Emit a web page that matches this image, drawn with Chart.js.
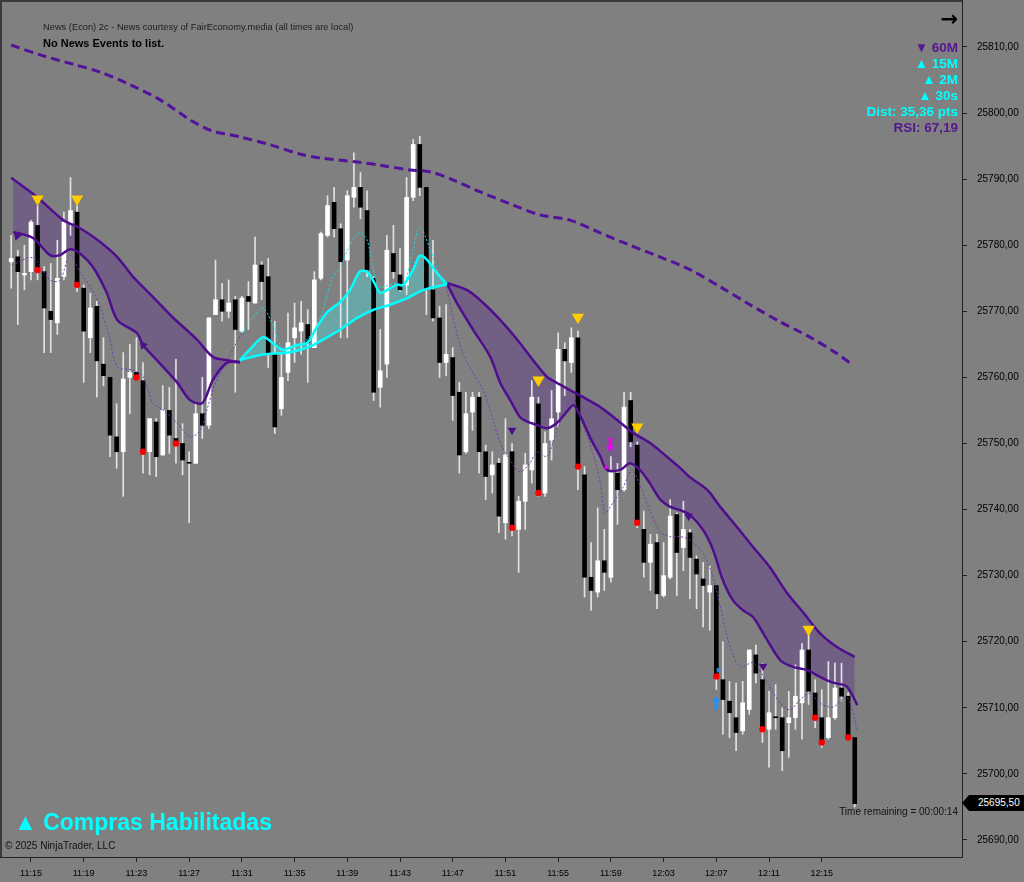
<!DOCTYPE html>
<html>
<head>
<meta charset="utf-8">
<script src="https://cdn.jsdelivr.net/npm/chart.js@4.4.1/dist/chart.umd.min.js"></script>
<style>
  html, body { margin: 0; padding: 0; background: #808080; }
  #wrap { position: relative; width: 1024px; height: 882px; overflow: hidden; font-family: "Liberation Sans", Arial, sans-serif; }
  #chart { position: absolute; left: 0; top: 0; }
  .t { position: absolute; white-space: nowrap; line-height: 1; }
  #news { left: 43px; top: 22.5px; font-size: 9.3px; color: #1c1c1c; }
  #nonews { left: 43px; top: 38px; font-size: 11px; font-weight: bold; color: #000; }
  #arrow { right: 66px; top: 9px; font-size: 21px; font-weight: bold; color: #000; font-family: "DejaVu Sans", sans-serif; }
  #info { position: absolute; right: 66px; top: 40px; text-align: right; font-size: 13.5px; line-height: 16px; font-weight: bold; }
  .pu { color: #55168f; }
  .cy { color: #00ffff; }
  #compras { left: 14px; top: 811px; font-size: 23px; font-weight: bold; color: #00ffff; }
  #copy { left: 5px; top: 841px; font-size: 10px; color: #111; }
  #remain { right: 66px; top: 807px; font-size: 10px; color: #111; }
  #badge { position: absolute; left: 962px; top: 795px; width: 62px; height: 16px; background: #000; color: #fff;
           font-size: 10px; line-height: 16px; padding-left: 16px; box-sizing: border-box;
           clip-path: polygon(0 50%, 7px 0, 100% 0, 100% 100%, 7px 100%); }
</style>
</head>
<body>
<div id="wrap">
  <canvas id="chart" width="1024" height="882"></canvas>
  <div class="t" id="news">News (Econ) 2c - News courtesy of FairEconomy.media (all times are local)</div>
  <div class="t" id="nonews">No News Events to list.</div>
  <div class="t" id="arrow">→</div>
  <div id="info">
    <div class="pu">▼ 60M</div>
    <div class="cy">▲ 15M</div>
    <div class="cy">▲ 2M</div>
    <div class="cy">▲ 30s</div>
    <div class="cy">Dist: 35,36 pts</div>
    <div class="pu">RSI: 67,19</div>
  </div>
  <div class="t" id="compras">▲ Compras Habilitadas</div>
  <div class="t" id="copy">© 2025 NinjaTrader, LLC</div>
  <div class="t" id="remain">Time remaining = 00:00:14</div>
  <div id="badge">25695,50</div>
</div>
<script>
// 30 second bars, index 0 = 11:13:30
const opens = [
  25777.5, 25778.25, 25775.5, 25776, 25783, 25776, 25770, 25768.25, 25775.25, 25783.25,
  25785, 25773.5, 25766, 25770.75, 25762, 25760, 25751, 25748.75, 25760, 25760.75,
  25759.5, 25748.75, 25753.25, 25748.25, 25755, 25750.75, 25750, 25747, 25747, 25754.5,
  25752.75, 25769.5, 25771.75, 25770, 25771.75, 25767, 25772.25, 25771.25, 25777, 25775.25,
  25763.5, 25755.25, 25760.75, 25766, 25767, 25768, 25764.5, 25775, 25781.5, 25786.5,
  25782.5, 25777.75, 25787.25, 25788.75, 25785.25, 25775, 25758.5, 25762, 25778.75, 25775.5,
  25774, 25787.25, 25795.25, 25788.75, 25773.25, 25769, 25762.25, 25763, 25757.75, 25748.75,
  25754.75, 25757, 25748.75, 25745.25, 25747, 25738, 25748.75, 25737, 25741.25, 25746,
  25756, 25742.5, 25750.5, 25754.75, 25764.25, 25762.25, 25766, 25745.25, 25729.75, 25727.5,
  25732.25, 25729.75, 25745.5, 25743, 25756.5, 25749.75, 25737, 25732, 25735, 25727,
  25729.75, 25739.25, 25734.25, 25736.5, 25732.5, 25729.5, 25727.5, 25728.5, 25714.25, 25711,
  25708.5, 25706.5, 25709.75, 25718, 25714.25, 25706.75, 25708.5, 25708.5, 25707.75, 25708.5,
  25710.75, 25718.75, 25712.25, 25708.5, 25705.5, 25708.5, 25713, 25711.75, 25705.5
];
const highs = [
  25781.5, 25779.25, 25780, 25783.75, 25786, 25776.75, 25777.25, 25780.75, 25785, 25790.25,
  25786, 25774, 25772.75, 25771.5, 25766, 25760, 25756, 25763.75, 25765, 25766,
  25762.25, 25753.75, 25753.75, 25758.75, 25758.5, 25762.75, 25753, 25748.75, 25756.25, 25760,
  25769, 25777.75, 25774.25, 25774.75, 25772.25, 25772.25, 25774.5, 25781.25, 25777.5, 25778,
  25768.5, 25763.5, 25769.75, 25771.25, 25771.5, 25770.25, 25776, 25782, 25787.5, 25788.75,
  25783.25, 25788.25, 25794, 25791, 25788.25, 25775.25, 25767.25, 25781.5, 25783, 25779.5,
  25790.25, 25796, 25796.5, 25788.75, 25780.75, 25770.75, 25771, 25764.5, 25759.25, 25757.75,
  25757.75, 25757.75, 25749.75, 25748.75, 25747.75, 25753.75, 25750, 25742, 25748.5, 25759.5,
  25757, 25751.75, 25758, 25766.75, 25765.25, 25767.5, 25767, 25746.5, 25735, 25740.25,
  25737, 25748, 25747, 25757.75, 25757.75, 25750.25, 25739.75, 25736.25, 25736.25, 25735,
  25741.5, 25739.5, 25741.25, 25737, 25733, 25732, 25731.5, 25728.5, 25720, 25714,
  25713.75, 25714, 25718.75, 25719.5, 25716.75, 25712.5, 25713.5, 25710, 25712.5, 25716.5,
  25719.75, 25721.25, 25714.25, 25712.75, 25717, 25716.75, 25716.75, 25712.25, 25705.5
];
const lows = [
  25773.5, 25768, 25773.25, 25774.75, 25774.75, 25763.75, 25763.75, 25766.5, 25774.75, 25781.5,
  25773, 25759.25, 25763.75, 25757, 25758.75, 25748, 25746.25, 25742, 25754.5, 25759.75,
  25745.5, 25745.25, 25745, 25748.25, 25748.5, 25747, 25745.25, 25738, 25747, 25750.75,
  25752.25, 25769.5, 25768.5, 25769, 25757.75, 25766.75, 25767.25, 25771.25, 25771.75, 25761.5,
  25751.5, 25754.25, 25759.5, 25762.25, 25763.5, 25759.25, 25764.5, 25774.75, 25781.25, 25781.25,
  25766, 25766, 25785.75, 25784, 25775.25, 25756.5, 25755.5, 25760, 25775, 25773,
  25772.5, 25786.75, 25787.5, 25769.5, 25768.5, 25760, 25760.25, 25753.5, 25745.5, 25748.5,
  25752, 25745.5, 25741.5, 25742.5, 25736.5, 25735.5, 25736, 25730.5, 25737, 25744,
  25742, 25742, 25747.5, 25752.5, 25757.25, 25760.75, 25743, 25726.75, 25724.75, 25726.75,
  25727.75, 25729, 25737.75, 25742.75, 25749.5, 25737.25, 25729.75, 25727.75, 25725, 25726.75,
  25729.5, 25727, 25730.75, 25726.5, 25725, 25722.25, 25721.75, 25712.75, 25706, 25705.5,
  25703.5, 25706, 25709, 25713.75, 25704.75, 25701, 25706.75, 25700.5, 25702.5, 25706.75,
  25705.25, 25710.5, 25707, 25704, 25705.25, 25708.25, 25711, 25705.25, 25695
];
const closes = [
  25778, 25776, 25775.75, 25783.5, 25776.25, 25770.5, 25768.75, 25775, 25783.5, 25785.25,
  25774, 25767, 25770.5, 25762.5, 25760.25, 25751.25, 25748.75, 25759.75, 25760.75, 25760,
  25748.75, 25753.75, 25748, 25755, 25751.25, 25750, 25747.5, 25747, 25754.5, 25752.75,
  25769, 25771.75, 25770, 25771.25, 25767.25, 25772, 25771.5, 25777, 25774.5, 25763.75,
  25752.5, 25760, 25765.25, 25767.5, 25768.25, 25765.25, 25774.75, 25781.75, 25786, 25782.5,
  25777.5, 25787.5, 25788.75, 25785.75, 25776.25, 25757.75, 25761, 25779.25, 25776, 25773.25,
  25787.25, 25795.25, 25788.75, 25773.25, 25769, 25762.25, 25763.5, 25757.25, 25748.25, 25754.5,
  25757, 25748.75, 25745, 25746.75, 25739, 25748.25, 25737.25, 25741.25, 25746.75, 25757,
  25742.5, 25750, 25753.75, 25764.25, 25762.5, 25766, 25746.5, 25729.75, 25727.75, 25732.25,
  25730.5, 25745.75, 25743, 25755.5, 25750.25, 25738, 25732, 25734.75, 25727.25, 25730,
  25739, 25733.5, 25737, 25732.75, 25730.25, 25728.5, 25728.5, 25714.75, 25711.25, 25709.25,
  25706.25, 25710.75, 25718.75, 25715.25, 25706.75, 25709.25, 25708.5, 25703.5, 25708.5, 25711.75,
  25718.75, 25712.5, 25708.5, 25704.75, 25708.5, 25713, 25711.75, 25705.5, 25695.5
];

const tickIdx = [3, 11, 19, 27, 35, 43, 51, 59, 67, 75, 83, 91, 99, 107, 115, 123];
const tickLabels = ["11:15", "11:19", "11:23", "11:27", "11:31", "11:35", "11:39", "11:43",
  "11:47", "11:51", "11:55", "11:59", "12:03", "12:07", "12:11", "12:15"];
const yTicks = [25690, 25700, 25710, 25720, 25730, 25740, 25750, 25760, 25770, 25780, 25790, 25800, 25810];

// [bar index, price]
const slowMa = [[0, 25810.3], [4.4, 25808.8], [9.7, 25807.3], [13.5, 25806.2], [18, 25804.3], [22.6, 25802],
  [27.1, 25799], [30.2, 25797.4], [34.7, 25796.4], [39.3, 25795.2], [43.8, 25793.8], [46.9, 25793.2],
  [52.5, 25792.6], [56, 25792.1], [60.5, 25791.4], [63.6, 25791.1], [67, 25789.9], [71.1, 25788.1],
  [76.1, 25786.1], [80.2, 25784.6], [84.8, 25783.8], [89.3, 25781.9], [93.9, 25780], [98.5, 25778.2],
  [103, 25776.3], [107.6, 25773.7], [112.1, 25771], [116.7, 25768.4], [121.2, 25766.1], [125, 25763.8],
  [127.7, 25761.9]];

const bandTop1 = [[0, 25790.2], [3.9, 25787.3], [7.9, 25783.8], [10.4, 25782.6], [13.5, 25780.5],
  [16.1, 25778.2], [18.5, 25775.2], [21.5, 25772.2], [24.5, 25769.1], [28.2, 25765.7], [30.6, 25763.1],
  [32.7, 25762.6], [34.7, 25762.3]];
const bandBot1 = [[0.3, 25782], [3.3, 25781.1], [5.9, 25778.5], [7.4, 25778.5], [8.9, 25779.4],
  [10.4, 25778.8], [12.4, 25776.7], [14.5, 25772.8], [16.1, 25768.7], [19.1, 25766.7], [20, 25764.9],
  [22.1, 25762.6], [25.2, 25759.2], [27.1, 25756.6], [29, 25756.1], [30.6, 25759.6], [32.7, 25762.2],
  [34.7, 25762.3]];

const cyanFast = [[34.7, 25762.6], [36.2, 25764.2], [38.2, 25766.1], [39.7, 25765.2], [41.2, 25764.2],
  [43.4, 25764.9], [44.9, 25765.2], [46.4, 25767.6], [47.9, 25769.8], [49.9, 25771.4], [51.4, 25773.2],
  [52.9, 25776], [54, 25776], [54.9, 25774.7], [56, 25772.8], [57, 25773.2], [58.5, 25774], [59.5, 25774],
  [61, 25776.3], [62, 25778.4], [63.1, 25777.8], [64.6, 25775.8], [66.1, 25774.1]];
const cyanSlow = [[34.7, 25762.6], [37.8, 25763.4], [42.3, 25763.8], [44.9, 25764.5], [47.3, 25765.7],
  [49.9, 25767.2], [52.5, 25769], [54.9, 25770.2], [57.5, 25771], [60.1, 25772], [62.5, 25773.2],
  [66.1, 25774.1]];

const bandTop2 = [[66.1, 25774.3], [69.2, 25773.2], [71.6, 25771.3], [74.2, 25768.7], [76.8, 25765.7],
  [79.2, 25762.6], [81.3, 25760.1], [83.3, 25758.9], [85.3, 25757.8], [86.8, 25757], [89.4, 25755.5],
  [91.9, 25753.6], [94.4, 25751.6], [96.9, 25750.1], [99.5, 25748], [101.5, 25746.3], [103, 25744.9],
  [105.6, 25743], [107.6, 25740.4], [110.1, 25737.4], [112.6, 25734.3], [115.1, 25731.3], [117.7, 25727.4],
  [120.2, 25724.4], [122.7, 25721.3], [125.3, 25719.2], [128, 25717.7]];
const bandBot2 = [[66.1, 25774.3], [67.6, 25771.3], [70.1, 25767.2], [72.7, 25763.1], [74.2, 25759.2],
  [75.7, 25756.6], [77.2, 25754], [78.3, 25753.3], [79.8, 25752.8], [81.3, 25752.3], [82.8, 25753.1],
  [84.3, 25754.8], [85.3, 25755.8], [86.3, 25754.3], [87.8, 25751], [89.4, 25748], [90.4, 25746],
  [92.4, 25746], [93.9, 25747], [95.4, 25746], [96.9, 25744], [98.5, 25741.5], [100, 25740.4],
  [101.5, 25739.9], [103, 25739.2], [105, 25736.9], [106.5, 25733.9], [108, 25729.3], [109.5, 25726.3],
  [111, 25724.8], [112.6, 25723.7], [114.1, 25721.3], [116.7, 25717.2], [118.6, 25716.2], [120.8, 25715.7],
  [122.7, 25714.7], [124.7, 25713.8], [126.8, 25713.2], [128.4, 25710.4]];

// thin dotted average, split where it changes colour
const fastMaA = [[0.1, 25777], [3.3, 25778.1], [5.9, 25774.7], [7.4, 25774.7], [8.9, 25778.5],
  [10.4, 25776], [12, 25773.7], [13.5, 25770.7], [15, 25765.7], [16.1, 25761.6], [18.5, 25761.1],
  [20, 25760.1], [21.5, 25756.1], [23, 25755.1], [25.2, 25753.1], [27.1, 25751], [28.7, 25752],
  [29.7, 25755.1], [30.9, 25758.9], [32.4, 25761.9], [34, 25764.9], [35, 25766.7]];
const fastMaB = [[35, 25766.7], [38.1, 25770.5], [39.7, 25767.9], [41.1, 25764.5], [42.8, 25764.6],
  [44.9, 25765.7], [46.9, 25769], [48.8, 25775.2], [49.9, 25776.6], [51.4, 25780], [52.9, 25781.9],
  [54, 25780.8], [54.9, 25776.6], [56, 25773.7], [58.5, 25774.3], [59.5, 25773.7], [61, 25779.3],
  [62, 25782.8], [63.6, 25779.3], [65.1, 25775.2], [66.1, 25773.7]];
const fastMaC = [[66.1, 25773.7], [67, 25769.1], [68.6, 25763.4], [70.1, 25760.7], [71.6, 25758.1],
  [73.1, 25753.6], [74.2, 25750.1], [75.7, 25747.5], [77.2, 25745.7], [78.7, 25747], [79.8, 25748.7],
  [81.3, 25748], [82.8, 25752], [84.3, 25755.4], [85.1, 25757], [86.3, 25754], [87.8, 25750.1],
  [89.4, 25744], [90.1, 25739.5], [91.3, 25741], [92.8, 25743.3], [94.2, 25746], [95.4, 25743.7],
  [96.9, 25739.9], [98.5, 25736.6], [100, 25735.9], [101.5, 25735.9], [103, 25735.4], [105, 25733.4],
  [106.5, 25729.8], [107.6, 25725.3], [109.1, 25719.2], [110.6, 25716.2], [112.6, 25716.8], [114.7, 25713.8],
  [116.7, 25710.7], [118.2, 25709.7], [119.7, 25711.2], [121.2, 25712.2], [122.7, 25710.7], [124.7, 25710.1],
  [126.8, 25711.6], [128.4, 25706.6]];

const yellowSignals = [[4, 25787], [10, 25787], [80, 25759.6], [86, 25769.1], [95, 25752.5], [121, 25721.9]];
const purpleSignals = [[76, 25752], [102.8, 25739], [114.1, 25716.3]];
const purpleHeads = [[0.9, 25781.4], [20, 25764.9]];
const redDotIdx = [4, 10, 19, 20, 25, 76, 80, 86, 95, 107, 114, 122, 123, 127];
const magentaArrow = [[90.9, 25749.8]];
const magentaMark = [[90.3, 25746.4]];
const blueArrow = [[107, 25710.7]];
const blueMark = [[107.3, 25715.7]];
const cyanTick = [[60.5, 25791.2]];

const PURPLE = "#4e0e8e";
const pts = (a) => a.map((p) => ({ x: p[0], y: p[1] }));

function arrowImg(color, up) {
  const c = document.createElement("canvas");
  c.width = 8; c.height = 14;
  const g = c.getContext("2d");
  g.fillStyle = color;
  g.beginPath();
  if (up) {
    g.moveTo(4, 0); g.lineTo(8, 6); g.lineTo(5.5, 6); g.lineTo(5.5, 14); g.lineTo(2.5, 14); g.lineTo(2.5, 6); g.lineTo(0, 6);
  } else {
    g.moveTo(4, 14); g.lineTo(8, 8); g.lineTo(5.5, 8); g.lineTo(5.5, 2); g.lineTo(2.5, 2); g.lineTo(2.5, 8); g.lineTo(0, 8);
    g.fillRect(1, 0, 6, 1.5);
  }
  g.closePath(); g.fill();
  return c;
}

const wicks = opens.map((o, i) => ({ x: i, y: [lows[i], highs[i]] }));
const whiteBodies = [], blackBodies = [];
opens.forEach((o, i) => { (closes[i] > o ? whiteBodies : blackBodies).push({ x: i, y: [o, closes[i]] }); });

const bar = (data, color, w, order) => ({ type: "bar", data, backgroundColor: color, barThickness: w, grouped: false, minBarLength: 1, order });
const line = (data, color, width, extra) => Object.assign({ type: "line", data: pts(data), borderColor: color, borderWidth: width, pointRadius: 0, tension: 0.3, fill: false, order: 1 }, extra || {});
const marks = (data, style, color, radius, rotation) => ({ type: "scatter", data: pts(data), pointStyle: style, backgroundColor: color, borderColor: color, borderWidth: 0, pointRadius: radius, rotation: rotation || 0, order: 0 });

const frame = {
  id: "frame",
  afterDraw(chart) {
    const { ctx, chartArea: a } = chart;
    ctx.save();
    ctx.strokeStyle = "#3a3a3a";
    ctx.lineWidth = 2;
    ctx.beginPath();
    ctx.moveTo(1, a.bottom); ctx.lineTo(1, 1); ctx.lineTo(a.right, 1);
    ctx.stroke();
    ctx.restore();
  },
};

new Chart(document.getElementById("chart"), {
  type: "bar",
  data: {
    datasets: [
      line(bandTop1, PURPLE, 2.5, { fill: "+1", backgroundColor: "rgba(85,30,140,0.33)" }),
      line(bandBot1, PURPLE, 2.5),
      line(cyanFast, "#00ffff", 2.5, { fill: "+1", backgroundColor: "rgba(60,255,255,0.3)" }),
      line(cyanSlow, "#00ffff", 2.5),
      line(bandTop2, PURPLE, 2.5, { fill: "+1", backgroundColor: "rgba(85,30,140,0.33)" }),
      line(bandBot2, PURPLE, 2.5),
      line(slowMa, "#52129a", 3, { borderDash: [9, 5] }),
      line(fastMaA, "#7438b0", 1, { borderDash: [2, 2] }),
      line(fastMaB, "#00e8e8", 1, { borderDash: [2, 2] }),
      line(fastMaC, "#7438b0", 1, { borderDash: [2, 2] }),
      bar(wicks, "#e2e2e2", 1, 3),
      bar(whiteBodies, "#ffffff", 4, 2),
      bar(blackBodies, "#000000", 4, 2),
      marks(yellowSignals, "triangle", "#ffcc00", 7, 180),
      marks(purpleSignals, "triangle", "#4b0f8a", 5, 180),
      marks(purpleHeads, "triangle", "#4b0f8a", 5, -40),
      marks(redDotIdx.map((i) => [i, closes[i]]), "circle", "#ff0000", 3.2),
      marks(magentaArrow, arrowImg("#ee00ee", false), "#ee00ee", 6),
      marks(magentaMark, "triangle", "#ee00ee", 3, 90),
      marks(blueArrow, arrowImg("#1e90ff", true), "#1e90ff", 6),
      marks(blueMark, "triangle", "#1e90ff", 3, -40),
      marks(cyanTick, "line", "#00ffff", 5),
    ],
  },
  options: {
    responsive: false,
    animation: false,
    layout: { padding: 0, autoPadding: false },
    plugins: { legend: { display: false }, tooltip: { enabled: false }, filler: { drawTime: "beforeDatasetsDraw" } },
    scales: {
      x: {
        type: "linear", min: -1.7, max: 144.28, offset: false,
        grid: { display: true, drawOnChartArea: false, offset: false, tickLength: 5, color: "#222" },
        border: { display: true, color: "#222" },
        ticks: { color: "#000", font: { size: 9 }, padding: 6, maxRotation: 0, autoSkip: false,
                 callback: (v) => tickLabels[tickIdx.indexOf(v)] },
        afterBuildTicks: (s) => { s.ticks = tickIdx.map((v) => ({ value: v })); },
        afterFit: (s) => { s.height = 25; s.paddingLeft = 0; s.paddingRight = 0; },
      },
      y: {
        type: "linear", position: "right", min: 25687.42, max: 25817.11,
        grid: { display: true, drawOnChartArea: false, tickLength: 5, color: "#222" },
        border: { display: true, color: "#222" },
        ticks: { color: "#000", font: { size: 10 }, padding: 10,
                 callback: (v) => v.toFixed(2).replace(".", ",") },
        afterBuildTicks: (s) => { s.ticks = yTicks.map((v) => ({ value: v })); },
        afterFit: (s) => { s.width = 62; s.paddingTop = 0; s.paddingBottom = 0; },
      },
    },
  },
  plugins: [frame],
});
</script>
</body>
</html>
